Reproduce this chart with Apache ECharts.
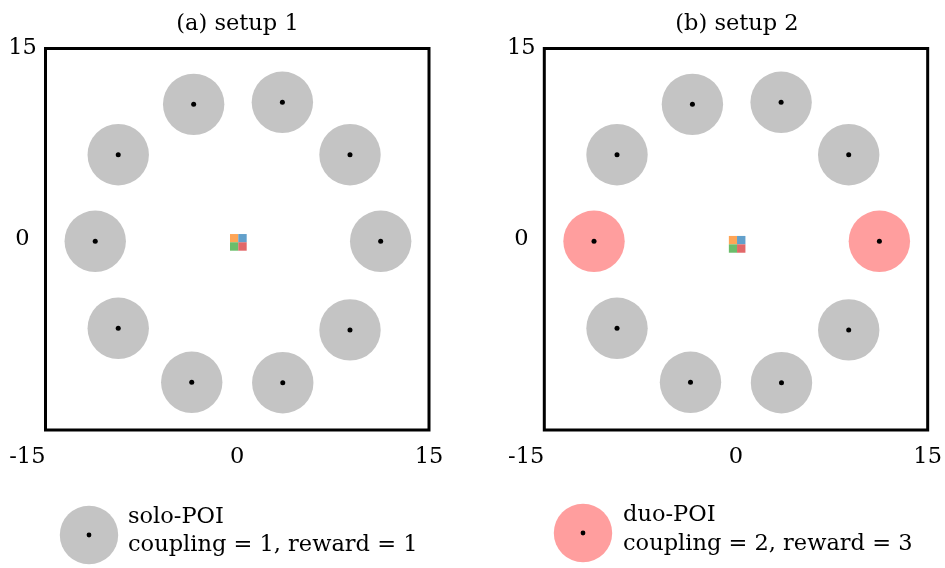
<!DOCTYPE html>
<html>
<head>
<meta charset="utf-8">
<script src="https://cdn.jsdelivr.net/npm/echarts@6/dist/echarts.min.js"></script>
<style>
  html, body { margin: 0; padding: 0; background: #ffffff; }
  #chart { width: 945px; height: 568px; }
</style>
</head>
<body>
<div id="chart"></div>
<script>
// ---- data ----
const panelTitles = ['(a) setup 1', '(b) setup 2'];
const axisTicks = [-15, 0, 15];
const poiX = [-3.41, 3.53, -9.31, 8.82, -11.11, 11.22, -9.31, 8.82, -3.56, 3.56];
const poiY = [10.61, 10.77, 6.65, 6.65, -0.16, -0.16, -7.00, -7.13, -11.25, -11.28];
const couplingSetup1 = [1, 1, 1, 1, 1, 1, 1, 1, 1, 1];
const couplingSetup2 = [1, 1, 1, 1, 2, 2, 1, 1, 1, 1];
const agentNames = ['agent 1', 'agent 2', 'agent 3', 'agent 4'];
const agentX1 = [-0.24, 0.41, -0.24, 0.41];
const agentY1 = [0.08, 0.08, -0.57, -0.57];
const agentX2 = [-0.23, 0.41, -0.23, 0.41];
const agentY2 = [-0.07, -0.07, -0.73, -0.73];
const legendLabels = [
  ['solo-POI', 'coupling = 1, reward = 1'],
  ['duo-POI', 'coupling = 2, reward = 3']
];

// ---- styles ----
const FONT = 'DejaVu Serif';
const FS = 22.5;
const SOLO_COLOR = '#c4c4c4';
const DUO_COLOR = '#ff9e9e';
const AGENT_COLORS = ['#ffa556', '#62a0cb', '#6bbd6b', '#e26869'];
const POI_SIZE = 61.4;

const grids = [
  { left: 45.5, top: 48.5, width: 383.5, height: 381.5 },
  { left: 544.3, top: 48.5, width: 383.7, height: 381.5 }
];

function pts(xs, ys, filter) {
  const out = [];
  for (let i = 0; i < xs.length; i++) {
    if (!filter || filter(i)) out.push([xs[i], ys[i]]);
  }
  return out;
}

const series = [];
const couplings = [couplingSetup1, couplingSetup2];
const agentXs = [agentX1, agentX2];
const agentYs = [agentY1, agentY2];
for (let p = 0; p < 2; p++) {
  const c = couplings[p];
  series.push({
    type: 'scatter', xAxisIndex: p, yAxisIndex: p, silent: true, z: 2,
    symbol: 'circle', symbolSize: POI_SIZE,
    itemStyle: { color: SOLO_COLOR, opacity: 1 },
    data: pts(poiX, poiY, i => c[i] === 1)
  });
  series.push({
    type: 'scatter', xAxisIndex: p, yAxisIndex: p, silent: true, z: 2,
    symbol: 'circle', symbolSize: POI_SIZE,
    itemStyle: { color: DUO_COLOR, opacity: 1 },
    data: pts(poiX, poiY, i => c[i] === 2)
  });
  series.push({
    type: 'scatter', xAxisIndex: p, yAxisIndex: p, silent: true, z: 3,
    symbol: 'circle', symbolSize: 5,
    itemStyle: { color: '#000000', opacity: 1 },
    data: pts(poiX, poiY)
  });
  for (let a = 0; a < agentNames.length; a++) {
    series.push({
      name: agentNames[a],
      type: 'scatter', xAxisIndex: p, yAxisIndex: p, silent: true, z: 4,
      symbol: 'rect', symbolSize: 8.4,
      itemStyle: { color: AGENT_COLORS[a], opacity: 1 },
      data: [[agentXs[p][a], agentYs[p][a]]]
    });
  }
}

const labelStyle = { fontFamily: FONT, fontSize: FS, color: '#000000' };

const xAxes = grids.map((g, i) => ({
  type: 'value', gridIndex: i,
  min: axisTicks[0], max: axisTicks[axisTicks.length - 1], interval: 15,
  axisLine: { show: false }, axisTick: { show: false }, splitLine: { show: false },
  axisLabel: Object.assign({}, labelStyle, {
    margin: 16, showMinLabel: true, showMaxLabel: true,
    alignMinLabel: 'right', alignMaxLabel: 'center'
  })
}));
const yAxes = grids.map((g, i) => ({
  type: 'value', gridIndex: i,
  min: axisTicks[0], max: axisTicks[axisTicks.length - 1], interval: 15,
  axisLine: { show: false }, axisTick: { show: false }, splitLine: { show: false },
  axisLabel: Object.assign({}, labelStyle, {
    margin: 23, align: 'center', showMinLabel: true, showMaxLabel: true,
    formatter: v => (v === axisTicks[0] ? '' : String(v))
  })
}));

const graphic = [];
const titleCenters = [237.5, 737];
for (let i = 0; i < 2; i++) {
  graphic.push({ type: 'text', x: titleCenters[i], y: 24, z: 10,
    style: { text: panelTitles[i], fontFamily: FONT, fontSize: FS, fill: '#000', align: 'center', verticalAlign: 'middle' } });
}
// legend entries
const legendItems = [
  { cx: 89, cy: 535, color: SOLO_COLOR, tx: 128, ty1: 517, ty2: 545 },
  { cx: 583, cy: 533, color: DUO_COLOR, tx: 623, ty1: 515, ty2: 544 }
];
legendItems.forEach((it, i) => {
  graphic.push({ type: 'circle', shape: { cx: it.cx, cy: it.cy, r: 29.2 }, style: { fill: it.color }, z: 10 });
  graphic.push({ type: 'circle', shape: { cx: it.cx, cy: it.cy, r: 2.4 }, style: { fill: '#000' }, z: 11 });
  graphic.push({ type: 'text', x: it.tx, y: it.ty1, z: 11,
    style: { text: legendLabels[i][0], fontFamily: FONT, fontSize: FS, fill: '#000', verticalAlign: 'middle', align: 'left' } });
  graphic.push({ type: 'text', x: it.tx, y: it.ty2, z: 11,
    style: { text: legendLabels[i][1], fontFamily: FONT, fontSize: FS, fill: '#000', verticalAlign: 'middle', align: 'left' } });
});

const chart = echarts.init(document.getElementById('chart'), null, { renderer: 'canvas' });
chart.setOption({
  animation: false,
  backgroundColor: '#ffffff',
  grid: grids.map(g => Object.assign({}, g, {
    show: true, borderColor: '#000000', borderWidth: 3, backgroundColor: '#ffffff', containLabel: false
  })),
  xAxis: xAxes,
  yAxis: yAxes,
  series: series,
  graphic: graphic
});
</script>
</body>
</html>
